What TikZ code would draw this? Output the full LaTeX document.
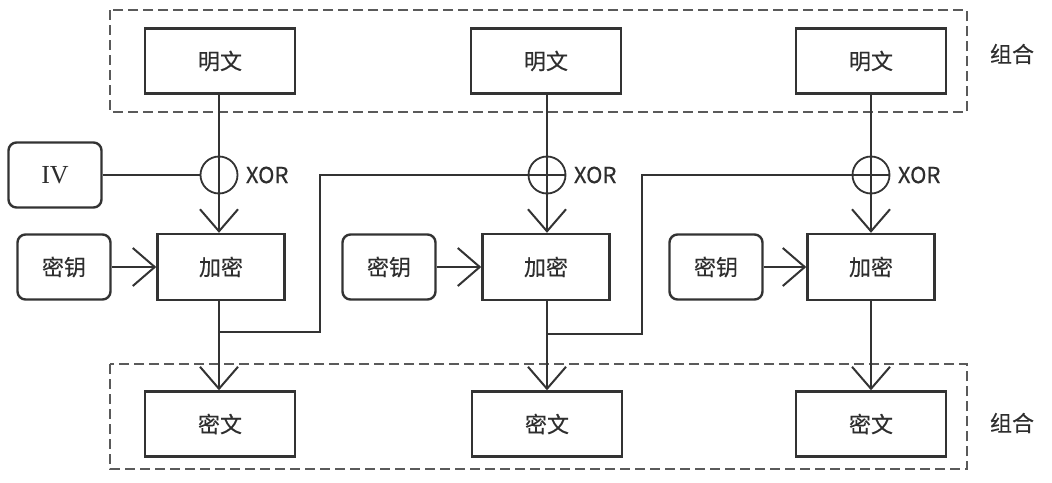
\documentclass[tikz,border=0pt]{standalone}
\usepackage{fontspec}
\setmainfont{Noto Sans CJK SC}[BoldFont={Noto Sans CJK SC}, BoldFeatures={FakeBold=0.35}]
\newfontfamily\ivfont{Liberation Serif}
\usetikzlibrary{arrows.meta}
\definecolor{ln}{HTML}{333333}
\definecolor{dsh}{HTML}{5A5A5A}
\definecolor{tx}{HTML}{2E2E2E}
\tikzset{
  sqbox/.style={draw=ln, line width=2.4pt, minimum width=150pt, minimum height=65pt, font=\fontsize{22}{26}\selectfont\bfseries, text=tx},
  encbox/.style={draw=ln, line width=2.4pt, minimum width=127pt, minimum height=66pt, font=\fontsize{22}{26}\selectfont\bfseries, text=tx},
  rbox/.style={draw=ln, line width=2.4pt, rounded corners=8pt, minimum width=93pt, minimum height=65pt, font=\fontsize{22}{26}\selectfont\bfseries, text=tx},
  xorc/.style={draw=ln, line width=1.8pt, circle, minimum size=37pt, inner sep=0pt},
  conn/.style={draw=ln, line width=2.4pt},
  arr/.style={conn, -{Straight Barb[length=22pt,width=38pt,line width=2pt]}},
  grp/.style={draw=dsh, line width=2.6pt, dash pattern=on 10pt off 5pt},
  lbl/.style={font=\fontsize{22}{26}\selectfont\bfseries, text=tx},
}
\begin{document}
\begin{tikzpicture}[x=1pt,y=-1pt]
\useasboundingbox (0,0) rectangle (1052,482);
\fill[white] (0,0) rectangle (1052,482);
% group boxes
\draw[grp] (110,10) rectangle (967,112);
\draw[grp] (110,364) rectangle (967,469);
\node[lbl] (g1) at (1012,54) {组合};
\node[lbl] (g2) at (1012,423) {组合};
% plaintext
\node[sqbox] (p1) at (220,61) {明文};
\node[sqbox] (p2) at (546,61) {明文};
\node[sqbox] (p3) at (871,61) {明文};
% IV
\node[rbox] (iv) at (55,175) {\mdseries\ivfont\fontsize{26}{28}\selectfont IV};
% xor
\node[xorc] (x1) at (219,175) {};
\node[xorc] (x2) at (547,175) {};
\node[xorc] (x3) at (871,175) {};
\node[lbl, anchor=west, xshift=4pt] (xl1) at (x1.east) {XOR};
\node[lbl, anchor=west, xshift=4pt] (xl2) at (x2.east) {XOR};
\node[lbl, anchor=west, xshift=4pt] (xl3) at (x3.east) {XOR};
% encrypt
\node[encbox] (e1) at (221,267) {加密};
\node[encbox] (e2) at (546,267) {加密};
\node[encbox] (e3) at (871,267) {加密};
% keys
\node[rbox] (k1) at (64,267) {密钥};
\node[rbox] (k2) at (389,267) {密钥};
\node[rbox] (k3) at (716,267) {密钥};
% ciphertext
\node[sqbox] (c1) at (220,424) {密文};
\node[sqbox] (c2) at (547,424) {密文};
\node[sqbox] (c3) at (871,424) {密文};
% coordinates for feedback
\coordinate (b1) at (219,332);
\coordinate (b2) at (547,334);
\coordinate (u1) at (320,332);
\coordinate (u2) at (642,334);
% connectors
\draw[conn] (p1.south -| x1) -- (x1.south);
\draw[conn] (p2.south -| x2) -- (x2.south);
\draw[conn] (p3.south -| x3) -- (x3.south);
\draw[conn] (iv.east) -- (x1.west);
\draw[arr] (x1.south) -- (e1.north -| x1);
\draw[arr] (x2.south) -- (e2.north -| x2);
\draw[arr] (x3.south) -- (e3.north -| x3);
\draw[arr] (k1.east) -- (e1.west);
\draw[arr] (k2.east) -- (e2.west);
\draw[arr] (k3.east) -- (e3.west);
\draw[arr] (e1.south -| x1) -- (c1.north -| x1);
\draw[arr] (e2.south -| x2) -- (c2.north -| x2);
\draw[arr] (e3.south -| x3) -- (c3.north -| x3);
\draw[conn] (b1) -- (u1) -- (u1 |- x2) -- (x2.east);
\draw[conn] (b2) -- (u2) -- (u2 |- x3) -- (x3.east);
\end{tikzpicture}
\end{document}
